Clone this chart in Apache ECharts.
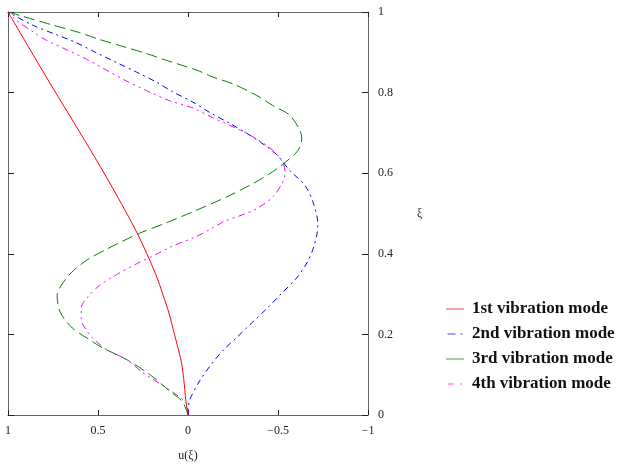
<!DOCTYPE html>
<html>
<head>
<meta charset="utf-8">
<script src="https://cdn.jsdelivr.net/npm/echarts@6/dist/echarts.min.js"></script>
<style>
html,body{margin:0;padding:0;background:#fff;}
#chart{width:619px;height:467px;}
</style>
</head>
<body>
<div id="chart"></div>
<script>
// ---- data ----
const seriesNames = ["1st vibration mode", "2nd vibration mode", "3rd vibration mode", "4th vibration mode"];

const mode1Xi = [0, 0.036, 0.09, 0.134, 0.2, 0.253, 0.297, 0.35, 0.45, 0.565, 0.663, 0.831, 1];
const mode1U  = [0, 0.012, 0.024, 0.038, 0.075, 0.106, 0.138, 0.18, 0.281, 0.421, 0.549, 0.777, 1];

const mode2Xi = [0, 0.035, 0.084, 0.126, 0.163, 0.192, 0.231, 0.265, 0.302, 0.338, 0.377, 0.411, 0.448, 0.475, 0.529, 0.570, 0.607, 0.646, 0.675, 0.699, 0.724, 0.748, 0.777, 0.802, 0.826, 0.851, 0.875, 0.899, 0.924, 0.944, 0.968, 1];
const mode2U  = [0, -0.008, -0.064, -0.13, -0.20, -0.27, -0.36, -0.44, -0.52, -0.60, -0.66, -0.694, -0.716, -0.721, -0.694, -0.649, -0.565, -0.493, -0.409, -0.326, -0.231, -0.131, -0.025, 0.086, 0.175, 0.287, 0.398, 0.510, 0.621, 0.733, 0.866, 1];

const mode3Xi = [0, 0.033, 0.060, 0.101, 0.138, 0.167, 0.192, 0.216, 0.255, 0.297, 0.321, 0.353, 0.385, 0.411, 0.431, 0.451, 0.477, 0.504, 0.541, 0.570, 0.594, 0.622, 0.656, 0.687, 0.707, 0.744, 0.768, 0.793, 0.822, 0.839, 0.856, 0.880, 0.897, 0.915, 0.932, 0.949, 0.968, 1];
const mode3U  = [0, 0.031, 0.103, 0.214, 0.343, 0.476, 0.565, 0.643, 0.710, 0.727, 0.705, 0.649, 0.560, 0.454, 0.365, 0.270, 0.120, -0.025, -0.214, -0.343, -0.437, -0.526, -0.610, -0.632, -0.621, -0.565, -0.471, -0.382, -0.248, -0.136, -0.047, 0.120, 0.231, 0.365, 0.493, 0.604, 0.755, 1];

const mode4Xi = [0, 0.028, 0.057, 0.106, 0.138, 0.163, 0.192, 0.211, 0.236, 0.265, 0.289, 0.321, 0.348, 0.375, 0.399, 0.419, 0.443, 0.460, 0.480, 0.497, 0.512, 0.541, 0.578, 0.602, 0.631, 0.663, 0.695, 0.719, 0.738, 0.763, 0.780, 0.805, 0.829, 0.856, 0.883, 0.907, 0.929, 0.954, 0.980, 1];
const mode4U  = [0, 0.008, 0.086, 0.253, 0.343, 0.454, 0.532, 0.565, 0.593, 0.593, 0.565, 0.493, 0.398, 0.287, 0.175, 0.086, -0.047, -0.120, -0.200, -0.304, -0.382, -0.471, -0.526, -0.540, -0.521, -0.454, -0.343, -0.231, -0.136, -0.019, 0.103, 0.231, 0.343, 0.454, 0.565, 0.677, 0.783, 0.872, 0.955, 1];

const xTicks = [1, 0.5, 0, -0.5, -1];
const yTicks = [0, 0.2, 0.4, 0.6, 0.8, 1];

// ---- build ----
function pairs(u, xi) { return xi.map((v, i) => [u[i], v]); }
const fmtMinus = v => (v < 0 ? '\u2212' + Math.abs(v) : String(v));

const serif = '"Liberation Serif", "Times New Roman", serif';
const axisColor = '#666';
const labelColor = '#222';

const legendIcons = [
  'path://M0,0h18v1h-18z',
  'path://M0,0h8v1h-8z M13,0h2v1h-2z',
  'path://M0,0h18v1h-18z',
  'path://M0,0h6v1h-6z M12,0h2v1h-2z'
];

const chart = echarts.init(document.getElementById('chart'), null, {renderer: 'canvas'});
const baseAxisLine = {show: true, onZero: false, lineStyle: {color: axisColor, width: 1}};
const option = {
  animation: false,
  backgroundColor: '#fff',
  grid: {left: 8, right: 251, top: 12, bottom: 45, containLabel: false},
  xAxis: [
    {
      type: 'value', min: -1, max: 1, interval: 0.5, inverse: true, position: 'bottom',
      name: 'u(\u03be)', nameLocation: 'middle', nameGap: 35,
      nameTextStyle: {fontFamily: serif, fontSize: 12, color: labelColor},
      axisLine: baseAxisLine,
      axisTick: {show: true, inside: true, length: 5, lineStyle: {color: '#222'}},
      axisLabel: {fontFamily: serif, fontSize: 12, color: labelColor, margin: 10,
        formatter: v => xTicks.includes(v) ? fmtMinus(v) : ''},
      splitLine: {show: false}
    },
    {
      type: 'value', min: -1, max: 1, interval: 0.5, inverse: true, position: 'top',
      axisLine: baseAxisLine,
      axisTick: {show: true, inside: true, length: 5, lineStyle: {color: '#222'}},
      axisLabel: {show: false}, splitLine: {show: false}
    }
  ],
  yAxis: [
    {
      type: 'value', min: 0, max: 1, interval: 0.2, position: 'right',
      name: '\u03be', nameLocation: 'middle', nameGap: 49, nameRotate: 0,
      nameTextStyle: {fontFamily: serif, fontSize: 12, color: labelColor, padding: [6, 0, 0, 0]},
      axisLine: baseAxisLine,
      axisTick: {show: true, inside: true, length: 6, lineStyle: {color: '#222'}},
      axisLabel: {fontFamily: serif, fontSize: 12, color: labelColor, margin: 10,
        formatter: v => yTicks.includes(Math.round(v * 10) / 10) ? String(Math.round(v * 10) / 10) : ''},
      splitLine: {show: false}
    },
    {
      type: 'value', min: 0, max: 1, interval: 0.2, position: 'left',
      axisLine: baseAxisLine,
      axisTick: {show: true, inside: true, length: 6, lineStyle: {color: '#222'}},
      axisLabel: {show: false}, splitLine: {show: false}
    }
  ],
  legend: {
    orient: 'vertical', left: 441, top: 294, itemWidth: 18, itemHeight: 1, itemGap: 5,
    textStyle: {fontFamily: serif, fontSize: 17, fontWeight: 'bold', color: '#111', lineHeight: 20, padding: [0, 0, 0, 3]},
    itemStyle: {opacity: 0.75},
    data: seriesNames.map((n, i) => ({name: n, icon: legendIcons[i]}))
  },
  series: [
    {name: seriesNames[0], type: 'line', data: pairs(mode1U, mode1Xi), smooth: 0.3, showSymbol: false, symbol: 'none',
      lineStyle: {color: '#ff0000', width: 1}, itemStyle: {color: '#ff0000'}, z: 5},
    {name: seriesNames[1], type: 'line', data: pairs(mode2U, mode2Xi), smooth: 0.3, showSymbol: false, symbol: 'none',
      lineStyle: {color: '#0000ff', width: 1, type: [6, 4, 2, 4]}, itemStyle: {color: '#0000ff'}},
    {name: seriesNames[2], type: 'line', data: pairs(mode3U, mode3Xi), smooth: 0.3, showSymbol: false, symbol: 'none',
      lineStyle: {color: '#008000', width: 1, type: [11, 5]}, itemStyle: {color: '#008000'}},
    {name: seriesNames[3], type: 'line', data: pairs(mode4U, mode4Xi), smooth: 0.3, showSymbol: false, symbol: 'none',
      lineStyle: {color: '#ff00ff', width: 1, type: [7, 4, 2, 4, 2, 4]}, itemStyle: {color: '#ff00ff'}}
  ]
};
chart.setOption(option);
</script>
</body>
</html>
